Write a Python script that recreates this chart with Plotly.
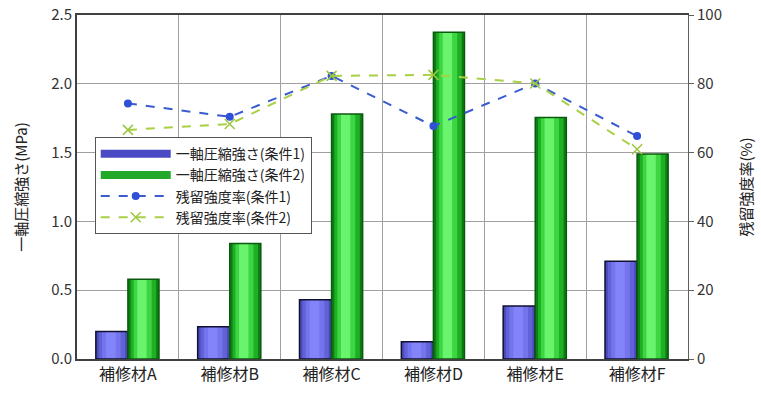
import plotly.graph_objects as go

# Materials and measured values
categories = ["補修材A", "補修材B", "補修材C", "補修材D", "補修材E", "補修材F"]
strength_cond1 = [0.20, 0.235, 0.43, 0.125, 0.385, 0.71]   # MPa
strength_cond2 = [0.58, 0.84, 1.78, 2.375, 1.755, 1.49]    # MPa
residual_cond1 = [74.3, 70.4, 82.3, 67.7, 80.1, 64.8]      # %
residual_cond2 = [66.6, 68.3, 82.3, 82.6, 80.1, 61.0]      # %

FONT = "Noto Sans CJK JP"

fig = go.Figure()


def shaded_bars(values, name, offset, width, layers, outline, legend_color):
    """Cylinder-like bars: stacked overlay layers, narrowing toward a lighter core."""
    for frac, color, shift in layers:
        w = width * frac
        fig.add_trace(go.Bar(
            x=categories, y=values, width=w,
            offset=offset + (width - w) / 2 + shift,
            marker=dict(color=color, line=dict(width=0)),
            showlegend=False, hoverinfo="skip",
        ))
    # outline drawn on top of the shading layers
    fig.add_trace(go.Bar(
        x=categories, y=values, width=width, offset=offset, name=name,
        marker=dict(color="rgba(0,0,0,0)", line=dict(color=outline, width=1.5)),
        showlegend=False,
    ))
    # legend entry: a wide swatch drawn as a thick line
    fig.add_trace(go.Scatter(
        x=[None], y=[None], name=name, mode="lines",
        line=dict(color=legend_color, width=8),
    ))


shaded_bars(
    strength_cond1, "一軸圧縮強さ(条件1)", offset=-0.315, width=0.315,
    layers=[(1.0, "#4a4ab8", 0), (0.82, "#6262d8", 0), (0.58, "#7474ec", -0.005), (0.3, "#8484fa", -0.01)],
    outline="#101030", legend_color="#4a4ac4",
)
shaded_bars(
    strength_cond2, "一軸圧縮強さ(条件2)", offset=0.0, width=0.305,
    layers=[(1.0, "#0c7e12", 0), (0.82, "#1fae26", 0), (0.58, "#3cd642", -0.008), (0.3, "#6af46e", -0.015)],
    outline="#0a5a0e", legend_color="#22a82a",
)

fig.add_trace(go.Scatter(
    x=categories, y=residual_cond1, name="残留強度率(条件1)", yaxis="y2",
    mode="lines+markers",
    line=dict(color="#3a5cd0", width=2, dash="dash"),
    marker=dict(symbol="circle", size=8, color="#3050d8"),
))
fig.add_trace(go.Scatter(
    x=categories, y=residual_cond2, name="残留強度率(条件2)", yaxis="y2",
    mode="lines+markers",
    line=dict(color="#a8d044", width=2, dash="dash"),
    marker=dict(symbol="x-thin", size=10, color="#a8d044", line=dict(color="#9cc83c", width=1.5)),
))

fig.update_layout(
    width=761, height=396,
    margin=dict(l=77, r=73, t=15, b=37, autoexpand=False),
    paper_bgcolor="white", plot_bgcolor="white",
    barmode="overlay",
    font=dict(family=FONT, size=15, color="#333333"),
    showlegend=True,
    legend=dict(
        x=0.029, y=0.645, xanchor="left", yanchor="top",
        bgcolor="white", bordercolor="#555555", borderwidth=1,
        font=dict(size=14, color="#222222"), itemwidth=70,
        tracegroupgap=0,
    ),
    xaxis=dict(
        type="category", range=[-0.5, 5.5], tickson="boundaries",
        showgrid=True, gridcolor="#a0a0a0", gridwidth=1,
        showline=True, linecolor="#404040", linewidth=2, mirror=True,
        ticks="", tickfont=dict(size=16, color="#222222"), automargin=False,
    ),
    yaxis=dict(
        range=[0, 2.5], dtick=0.5, tickformat=".1f",
        showgrid=True, gridcolor="#a0a0a0", gridwidth=1,
        showline=True, linecolor="#404040", linewidth=2,
        ticks="", zeroline=False, automargin=False,
        title=dict(text="一軸圧縮強さ(MPa)", font=dict(size=15, color="#222222"), standoff=20),
    ),
    yaxis2=dict(
        overlaying="y", side="right", range=[0, 100], dtick=20,
        showgrid=False, zeroline=False, automargin=False,
        showline=True, linecolor="#606060", linewidth=1,
        ticks="outside", ticklen=5, tickcolor="#606060",
        title=dict(text="残留強度率(%)", font=dict(size=15, color="#222222"), standoff=20),
    ),
)

fig.write_html("out.html")
